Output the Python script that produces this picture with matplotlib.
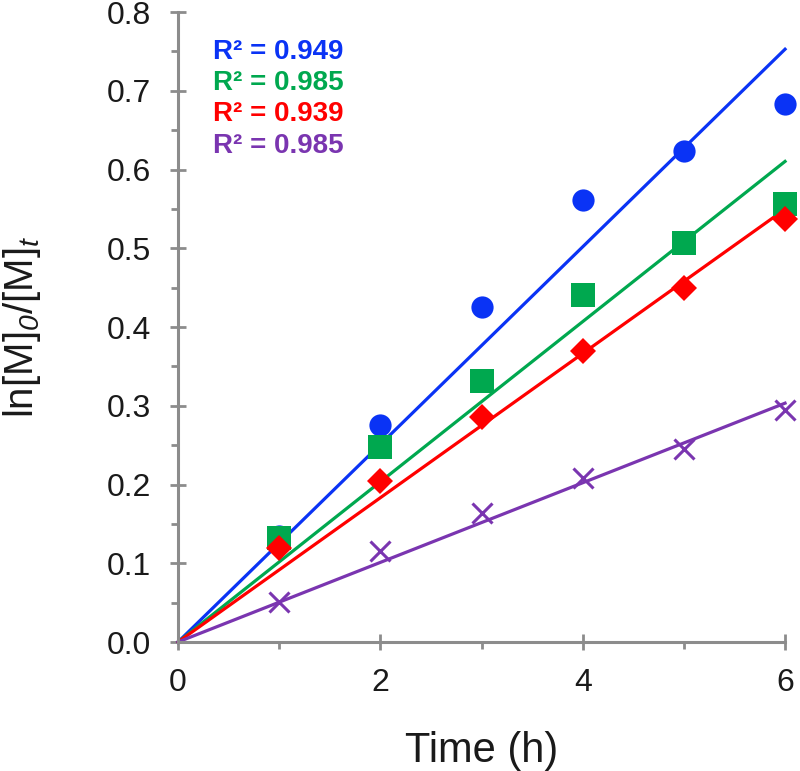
import numpy as np
import matplotlib
matplotlib.use("Agg")
import matplotlib.pyplot as plt
from matplotlib.ticker import MultipleLocator

plt.rcParams["font.family"] = ["Liberation Sans", "DejaVu Sans"]
plt.rcParams["mathtext.fontset"] = "custom"
plt.rcParams["mathtext.rm"] = "Liberation Sans"
# italic digits: \mathit forces digits to roman, so use the sf slot for italic
plt.rcParams["mathtext.sf"] = "Liberation Sans:italic"

# ---- data ----
time_h = [1, 2, 3, 4, 5, 6]
blue_y = [0.135, 0.275, 0.425, 0.561, 0.623, 0.683]
green_y = [0.132, 0.248, 0.331, 0.441, 0.507, 0.556]
red_y = [0.120, 0.205, 0.286, 0.369, 0.450, 0.537]
purple_y = [0.051, 0.115, 0.164, 0.208, 0.245, 0.295]
r2_labels = ["R² = 0.949", "R² = 0.985", "R² = 0.939", "R² = 0.985"]

series = [
    (blue_y, "#0a33f5", "o", 16, None),
    (green_y, "#00a84f", "s", 17, None),
    (red_y, "#ff0000", "D", 13, None),
    (purple_y, "#7a35b0", "x", 15, 2.2),
]

fig = plt.figure(figsize=(8, 7.71), dpi=100)
ax = fig.add_axes([0.2225, 0.1673, 0.7588, 0.8171])

x = np.array(time_h, dtype=float)
xfit = np.array([0.0, 6.0])
for ys, col, mk, ms, mew in series:
    y = np.array(ys)
    # linear fit forced through the origin
    k = np.sum(x * y) / np.sum(x * x)
    ax.plot(xfit, k * xfit, color=col, lw=2.3, zorder=2, clip_on=False)
    if mk == "x":
        ax.plot(x, y, ls="none", marker=mk, ms=ms, mew=mew, color=col,
                zorder=3, clip_on=False)
    else:
        ax.plot(x, y, ls="none", marker=mk, ms=ms, mew=0, color=col,
                zorder=3, clip_on=False)

for i, (txt, s) in enumerate(zip(r2_labels, series)):
    ax.text(0.057, 0.9365 - i * 0.0495, txt, transform=ax.transAxes,
            color=s[1], fontsize=20, fontweight="bold", va="center", ha="left")

ax.set_xlim(0, 6)
ax.set_ylim(0, 0.8)
ax.xaxis.set_major_locator(MultipleLocator(2))
ax.xaxis.set_minor_locator(MultipleLocator(1))
ax.yaxis.set_major_locator(MultipleLocator(0.1))
ax.yaxis.set_minor_locator(MultipleLocator(0.05))
ax.yaxis.set_major_formatter(plt.FormatStrFormatter("%.1f"))

for s in ["top", "right"]:
    ax.spines[s].set_visible(False)
for s in ["left", "bottom"]:
    ax.spines[s].set_color("#8c8c8c")
    ax.spines[s].set_linewidth(2.2)

ax.tick_params(which="major", direction="inout", length=11, width=2,
               color="#8c8c8c", labelsize=23, labelcolor="#1a1a1a")
ax.tick_params(which="minor", direction="out", length=5, width=2, color="#8c8c8c")
ax.tick_params(axis="y", which="major", pad=14)
ax.tick_params(axis="x", which="major", pad=13)

ax.set_xlabel("Time (h)", fontsize=30, color="#1a1a1a", labelpad=24)
ax.set_ylabel(r"ln[M]$_{\mathsf{0}}$/[M]$_{\mathsf{t}}$", fontsize=29,
              color="#1a1a1a", labelpad=46)

fig.savefig("out.png", dpi=100)
